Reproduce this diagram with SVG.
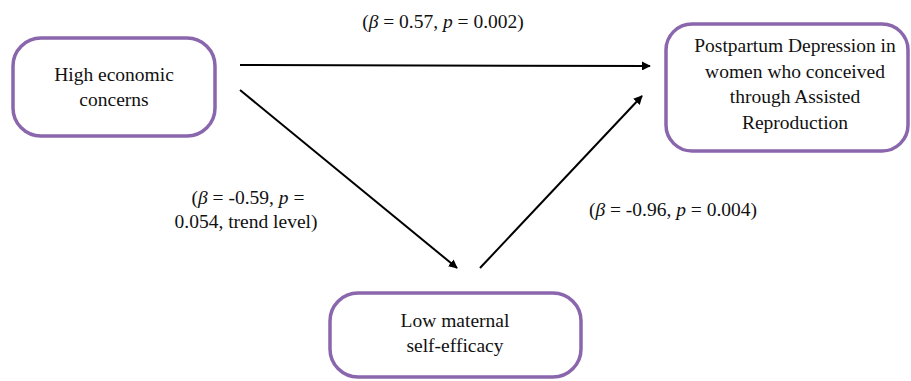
<svg xmlns="http://www.w3.org/2000/svg" width="911" height="381" viewBox="0 0 911 381">
  <style>
    .box { fill: #ffffff; stroke: #8A66AD; stroke-width: 3.5; }
    .t { font-family: "Liberation Serif", "Times New Roman", serif; font-size: 19.5px; fill: #111111; text-anchor: middle; }
    .i { font-style: italic; }
    .edge { stroke: #000000; stroke-width: 2; fill: none; marker-end: url(#ah); }
  </style>
  <defs>
    <marker id="ah" viewBox="0 0 10 10" refX="9" refY="5" markerWidth="4.5" markerHeight="4.5" orient="auto" markerUnits="strokeWidth">
      <path d="M0,0 L10,5 L0,10 z" fill="#000000"/>
    </marker>
  </defs>
  <rect width="911" height="381" fill="#ffffff"/>

  <g id="connectors">
    <line class="edge" x1="240" y1="65" x2="650" y2="66"/>
    <line class="edge" x1="240" y1="90" x2="457" y2="268"/>
    <line class="edge" x1="480" y1="268" x2="642" y2="96"/>
  </g>

  <g id="node-economic">
    <rect class="box" x="13" y="38" width="202" height="98" rx="28"/>
    <text class="t" x="114" y="81">High economic</text>
    <text class="t" x="114" y="106">concerns</text>
  </g>

  <g id="node-ppd">
    <rect class="box" x="666" y="24" width="242" height="127" rx="26"/>
    <text class="t" x="795" y="52">Postpartum Depression in</text>
    <text class="t" x="795" y="78">women who conceived</text>
    <text class="t" x="795" y="103">through Assisted</text>
    <text class="t" x="795" y="129">Reproduction</text>
  </g>

  <g id="node-efficacy">
    <rect class="box" x="330" y="293" width="251" height="84" rx="28"/>
    <text class="t" x="455" y="327">Low maternal</text>
    <text class="t" x="455" y="352">self-efficacy</text>
  </g>

  <g id="labels">
    <text class="t" x="443" y="28">(<tspan class="i">β</tspan> = 0.57, <tspan class="i">p</tspan> = 0.002)</text>
    <text class="t" x="248" y="204">(<tspan class="i">β</tspan> = -0.59, <tspan class="i">p</tspan> =</text>
    <text class="t" x="246" y="228">0.054, trend level)</text>
    <text class="t" x="673" y="216">(<tspan class="i">β</tspan> = -0.96, <tspan class="i">p</tspan> = 0.004)</text>
  </g>
</svg>
